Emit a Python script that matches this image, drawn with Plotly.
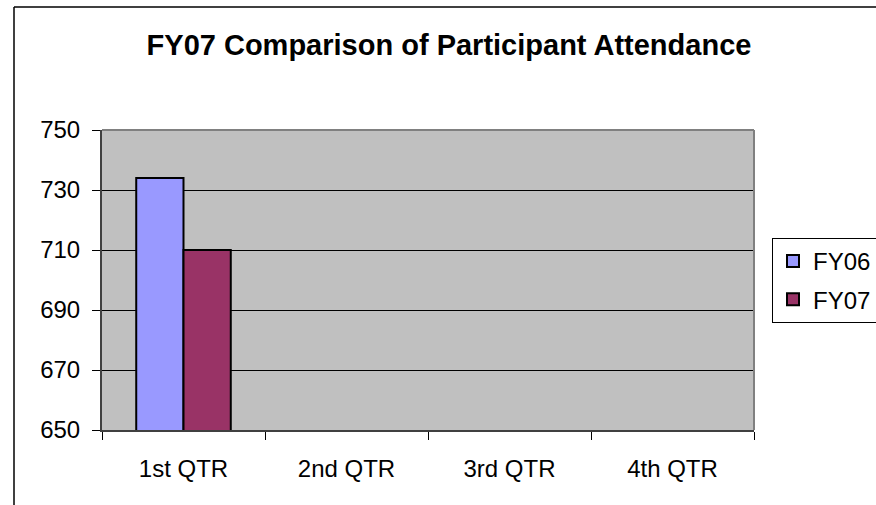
import plotly.graph_objects as go

categories = ["1st QTR", "2nd QTR", "3rd QTR", "4th QTR"]
fy06 = [734, None, None, None]
fy07 = [710, None, None, None]
y_ticks = [650, 670, 690, 710, 730, 750]

fig = go.Figure()
fig.add_trace(go.Bar(name="FY06", x=categories, y=fy06, marker=dict(color="#9999FF", line=dict(color="black", width=2)), legendgroup="a"))
fig.add_trace(go.Bar(name="FY07", x=categories, y=fy07, marker=dict(color="#993366", line=dict(color="black", width=2)), legendgroup="b"))

W, H = 876, 505
L, R, T, B = 102, 122, 130, 75
pw, ph = W - L - R, H - T - B

def px(x):
    return (x - L) / pw

def py(y):
    return (H - B - y) / ph

fig.update_layout(
    width=W, height=H,
    margin=dict(l=L, r=R, t=T, b=B, autoexpand=False),
    paper_bgcolor="white",
    plot_bgcolor="#C0C0C0",
    barmode="group",
    bargap=0.42,
    bargroupgap=0,
    font=dict(family="Arial, Liberation Sans, sans-serif", color="black", size=24),
    title=dict(text="<b>FY07 Comparison of Participant Attendance</b>", x=px(449), xref="paper", xanchor="center",
               y=1 - 45 / H, yanchor="middle", font=dict(size=29)),
    legend=dict(x=px(772), y=py(238), xanchor="left", yanchor="top", bordercolor="black", borderwidth=1,
                bgcolor="white", font=dict(size=24), tracegroupgap=4, itemsizing="constant"),
    showlegend=True,
)
fig.update_xaxes(showline=True, linecolor="#404040", linewidth=2, ticks="outside", ticklen=8, tickcolor="black",
                 tickson="boundaries", showgrid=False, tickfont=dict(size=24), ticklabelstandoff=16)
fig.update_yaxes(range=[650, 750], tickvals=y_ticks, showline=True, linecolor="#404040", linewidth=2,
                 ticks="outside", ticklen=8, tickcolor="black", showgrid=True, gridcolor="black", gridwidth=1,
                 tickfont=dict(size=24), ticklabelstandoff=7, zeroline=False)

# plot area outline (top & right in gray)
fig.add_shape(type="line", xref="paper", yref="paper", x0=0, x1=1, y0=1, y1=1, line=dict(color="#808080", width=2))
fig.add_shape(type="line", xref="paper", yref="paper", x0=1, x1=1, y0=0, y1=1, line=dict(color="#808080", width=2))
# outer chart border (left & top)
fig.add_shape(type="line", xref="paper", yref="paper", x0=px(14), x1=px(14), y0=py(H + 5), y1=py(7), line=dict(color="black", width=1.5))
fig.add_shape(type="line", xref="paper", yref="paper", x0=px(14), x1=px(W + 5), y0=py(7), y1=py(7), line=dict(color="black", width=1.5))

fig.write_html("out.html", config={"displayModeBar": False},
               post_script="document.body.style.margin='0';document.body.style.overflow='hidden';")
